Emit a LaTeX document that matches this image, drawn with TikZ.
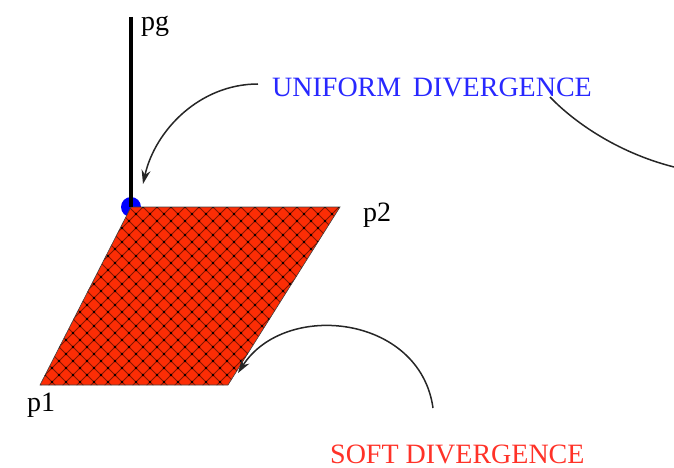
\documentclass[tikz,border=0pt]{standalone}
\usepackage{fontspec}
\setmainfont{Liberation Serif}
\usetikzlibrary{arrows.meta}
\definecolor{fillred}{RGB}{252,45,5}
\definecolor{hatch}{RGB}{130,20,0}
\definecolor{lblblue}{RGB}{40,40,255}
\definecolor{lblred}{RGB}{255,50,40}
\tikzset{
  lbl/.style={inner sep=0pt, anchor=base west, font=\fontsize{28}{33}\selectfont},
  curve/.style={line width=1.5pt, black!85},
  tip/.style={-{Stealth[length=14pt,width=9pt]}}
}
\begin{document}
\begin{tikzpicture}[x=1pt,y=-1pt]
\useasboundingbox (0,0) rectangle (674,468);
% corners
\coordinate (tl) at (131,207);
\coordinate (tr) at (340,207);
\coordinate (br) at (228,385);
\coordinate (bl) at (40,385);
\coordinate (top) at (131,17);
% blue dot
\fill[blue] (tl) circle (10);
% parallelogram
\fill[fillred] (tl) -- (tr) -- (br) -- (bl) -- cycle;
\begin{scope}
  \clip (tl) -- (tr) -- (br) -- (bl) -- cycle;
  \foreach \k in {0,...,52}{
    \draw[hatch, line width=0.8pt] ({-165+14*\k},207) -- ++(200,200);
    \draw[hatch, line width=0.8pt] ({-165+14*\k},207) -- ++(-200,200);
  }
  \foreach \m in {14,...,38}{
    \foreach \n in {0,...,13}{
      \fill[black] ({-165+14*\m},{207+14*\n}) circle (1.4);
      \fill[black] ({-158+14*\m},{214+14*\n}) circle (1.4);
    }
  }
\end{scope}
\draw[black!75, line width=0.6pt] (tl) -- (tr) -- (br) -- (bl) -- cycle;
% vertical line
\draw[line width=4pt] (top) -- (tl);
% labels
\node[lbl] (pg) at (141,31) {pg};
\node[lbl] (p2) at (363,221) {p2};
\node[lbl] (p1) at (27,411) {p1};
\node[lbl, text=lblblue] (uni) at (272,97) {UNIFORM\, DIVERGENCE};
\node[lbl, text=lblred] (soft) at (330,463) {SOFT DIVERGENCE};
% arrows
\coordinate (ua) at (258,84);
\coordinate (ut) at (143,184);
\draw[curve, tip] (ua) .. controls (200,84) and (155,130) .. (ut);
\coordinate (sa) at (433,408);
\coordinate (st) at (238,373);
\draw[curve, tip] (sa) .. controls (420,315) and (285,300) .. (st);
\coordinate (ca) at (550,97);
\coordinate (cb) at (674,167);
\draw[curve] (ca) .. controls (572,120) and (615,152) .. (cb);
\end{tikzpicture}
\end{document}
